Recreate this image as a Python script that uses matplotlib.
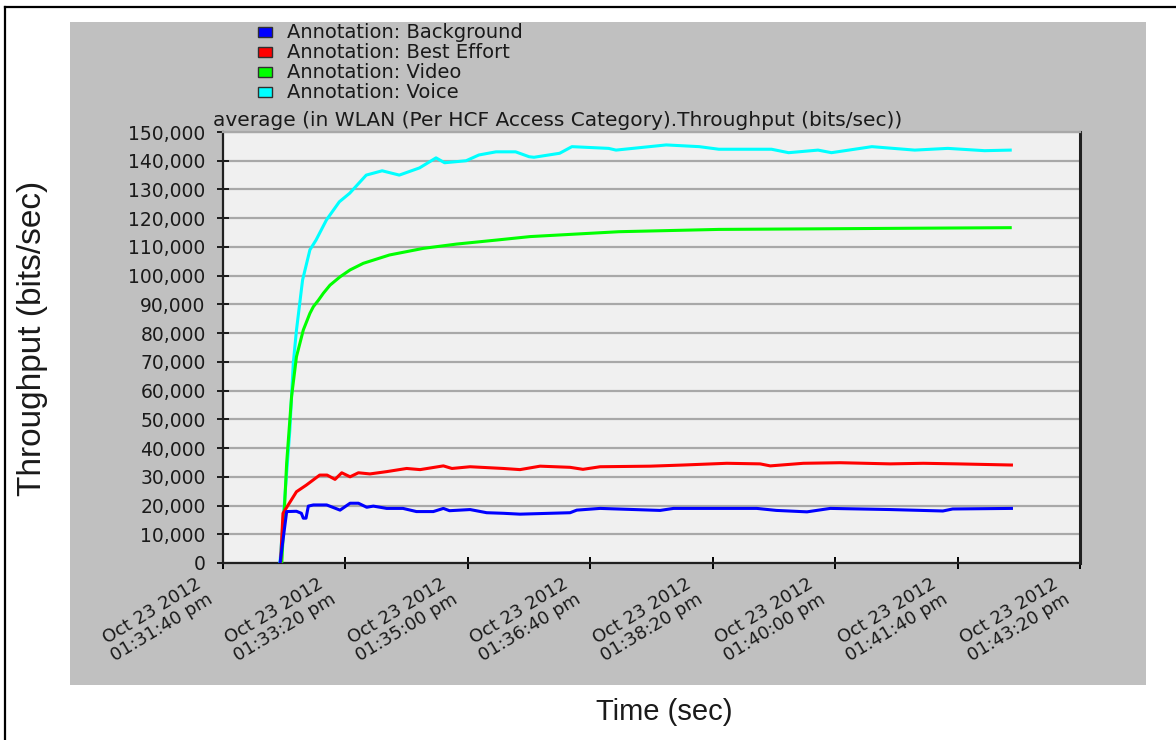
import matplotlib
matplotlib.use("Agg")
import matplotlib.pyplot as plt
import matplotlib.transforms as mtransforms
from matplotlib.patches import Rectangle
from matplotlib.lines import Line2D

# seconds after Oct 23 2012 01:31:40 pm
tick_secs = [0, 100, 200, 300, 400, 500, 600, 700]
tick_labels = ["Oct 23 2012\n01:31:40 pm", "Oct 23 2012\n01:33:20 pm",
               "Oct 23 2012\n01:35:00 pm", "Oct 23 2012\n01:36:40 pm",
               "Oct 23 2012\n01:38:20 pm", "Oct 23 2012\n01:40:00 pm",
               "Oct 23 2012\n01:41:40 pm", "Oct 23 2012\n01:43:20 pm"]

voice_t = [46.5, 54.6, 57.4, 60, 65, 71, 76, 84.5, 95, 103.5, 117, 130, 144, 160.5,
           174, 181, 198.6, 209, 223, 239, 250, 254, 275, 285, 315, 321, 362, 389,
           405, 448, 462, 486, 497, 530, 565, 592, 622, 643]
voice_v = [0, 46300, 69500, 81000, 98500, 109000, 112400, 119400, 125700, 128700,
           135000, 136500, 135000, 137500, 141000, 139300, 140000, 142000, 143100,
           143100, 141400, 141200, 142600, 144900, 144300, 143700, 145500, 144900,
           144000, 144000, 142800, 143700, 142800, 144900, 143700, 144300, 143500, 143700]

video_t = [48, 52, 56, 60, 65.6, 71, 73.8, 78, 82, 87.4, 95.6, 103.8, 114.6, 136,
           163.6, 190.9, 223.6, 250.8, 323.5, 405, 486.5, 560, 643]
video_v = [0, 34800, 57900, 71800, 81100, 86900, 89200, 91500, 93900, 96700, 99600,
           102000, 104300, 107200, 109500, 111000, 112400, 113600, 115300, 116100,
           116300, 116500, 116700]

besteffort_t = [47, 49, 60, 68, 79, 85, 91.5, 97, 103.8, 110.6, 120, 133.7, 150, 161,
                180, 187, 201.8, 229, 242.6, 259, 283.5, 294, 308, 349, 376, 411.5,
                438.7, 447, 474, 504, 545, 572, 599.5, 644]
besteffort_v = [0, 17300, 24800, 27100, 30600, 30600, 29100, 31400, 30000, 31400,
                31000, 31800, 32900, 32500, 33800, 32900, 33500, 32900, 32500, 33700,
                33300, 32600, 33500, 33700, 34100, 34700, 34500, 33800, 34700, 34900,
                34500, 34700, 34500, 34100]

background_t = [46.6, 52, 60, 64, 65.6, 67.8, 69.7, 73.8, 84.7, 95.6, 103.8, 110.6,
                117.4, 122.8, 133.7, 147, 158, 171.8, 180, 185, 201.8, 215.4, 229,
                242.6, 283.5, 289, 308, 357, 368, 403, 436, 452, 477, 496, 545, 588,
                596, 644]
background_v = [0, 17900, 18000, 17300, 15600, 15600, 19800, 20200, 20200, 18400,
                20800, 20800, 19400, 19800, 19000, 19000, 17900, 17900, 19000, 18200,
                18600, 17500, 17300, 17000, 17500, 18400, 19000, 18300, 19000, 19000,
                19000, 18300, 17800, 19000, 18600, 18100, 18800, 19000]

legend_labels = ["Annotation: Background", "Annotation: Best Effort",
                 "Annotation: Video", "Annotation: Voice"]
legend_colors = ["#0000ff", "#ff0000", "#00ff00", "#00ffff"]

W, H = 1176, 740
fig = plt.figure(figsize=(W / 100, H / 100), dpi=100, facecolor="white")

# outer frame (top and left) and grey panel
fig.add_artist(Line2D([5 / W, 5 / W], [0, 1 - 7 / H], color="black", lw=1.6))
fig.add_artist(Line2D([5 / W, 1], [1 - 7 / H, 1 - 7 / H], color="black", lw=1.6))
fig.add_artist(Rectangle((70 / W, 1 - 685 / H), (1146 - 70) / W, (685 - 22) / H,
                         transform=fig.transFigure, facecolor="#c0c0c0",
                         edgecolor="none", zorder=0))

ax = fig.add_axes([223 / W, 1 - 563 / H, (1080 - 223) / W, (563 - 132) / H])
ax.set_facecolor("#f0f0f0")

# series (voice drawn first, background on top)
ax.plot(voice_t, voice_v, color=legend_colors[3], lw=2.2, zorder=3)
ax.plot(video_t, video_v, color=legend_colors[2], lw=2.2, zorder=4)
ax.plot(besteffort_t, besteffort_v, color=legend_colors[1], lw=2.2, zorder=5)
ax.plot(background_t, background_v, color=legend_colors[0], lw=2.2, zorder=6)

ax.set_xlim(0, 700)
ax.set_ylim(0, 150000)
yt = list(range(0, 150001, 10000))
ax.set_yticks(yt)
ax.set_yticklabels(["{:,}".format(v) for v in yt], fontsize=13.5, color="#1a1a1a")
ax.yaxis.grid(True, color="#a8a8a8", lw=1.6)
ax.set_axisbelow(True)
ax.tick_params(axis="y", direction="inout", length=9, width=1.2, pad=8)
ax.set_xticks(tick_secs)
ax.set_xticklabels([])
ax.tick_params(axis="x", direction="inout", length=8, width=1.4)

for s in ["left", "bottom", "right"]:
    ax.spines[s].set_color("#202020")
    ax.spines[s].set_linewidth(1.6)
ax.spines["right"].set_linewidth(2.2)
ax.spines["top"].set_color("#a8a8a8")
ax.spines["top"].set_linewidth(1.6)

# rotated two-line time labels
off = mtransforms.ScaledTranslation(-0.66, -0.56, fig.dpi_scale_trans)
trans = mtransforms.blended_transform_factory(ax.transData, ax.transAxes) + off
for t, lab in zip(tick_secs, tick_labels):
    ax.text(t, 0, lab, transform=trans, rotation=31, rotation_mode="anchor",
            ha="center", va="center", multialignment="center", linespacing=1.1,
            fontsize=13, color="#1a1a1a", clip_on=False)

# chart title
ax.text(-0.012, 1.014, "average (in WLAN (Per HCF Access Category).Throughput (bits/sec))",
        transform=ax.transAxes, ha="left", va="baseline", fontsize=14.5, color="#1a1a1a")

# legend
for i, (lab, col) in enumerate(zip(legend_labels, legend_colors)):
    yc = 32 + 20 * i
    fig.add_artist(Rectangle((258 / W, 1 - (yc + 5) / H), 14 / W, 10 / H,
                             transform=fig.transFigure, facecolor=col,
                             edgecolor="#303030", lw=1.0))
    fig.text(287 / W, 1 - yc / H, lab, ha="left", va="center", fontsize=14,
             color="#1a1a1a")

# axis titles
fig.text(33 / W, 1 - 338 / H, "Throughput (bits/sec)", rotation=90, ha="center",
         va="center", fontsize=24, color="#1a1a1a", family="Liberation Sans")
fig.text(664 / W, 1 - 712 / H, "Time (sec)", ha="center", va="center", fontsize=21,
         color="#1a1a1a", family="Liberation Sans")

fig.savefig("out.png", dpi=100, facecolor="white")
